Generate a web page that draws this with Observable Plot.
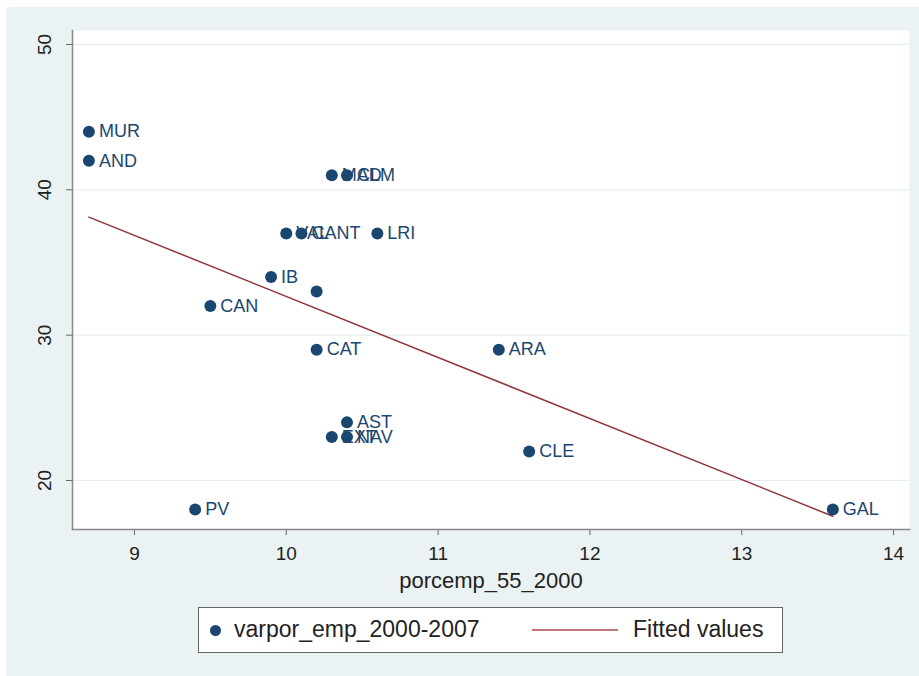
<!DOCTYPE html>
<html>
<head>
<meta charset="utf-8">
<script src="https://cdn.jsdelivr.net/npm/d3@7"></script>
<script src="https://cdn.jsdelivr.net/npm/@observablehq/plot@0.6"></script>
<style>
  html, body { margin: 0; padding: 0; background: #ffffff; }
  body { width: 919px; height: 676px; position: relative; overflow: hidden; font-family: "Liberation Sans", Arial, sans-serif; }
  #panel { position: absolute; left: 6px; top: 7px; width: 913px; height: 669px; background: #eaf2f3; }
  #legend { position: absolute; left: 192px; top: 600px; width: 585px; height: 46px; background: #fff; border: 1px solid #666; box-sizing: border-box; font-size: 23px; color: #222; }
  #legend .dot { position: absolute; left: 11px; top: 17px; width: 11px; height: 11px; border-radius: 50%; background: #1a476f; }
  #legend .t1 { position: absolute; left: 35px; top: 8px; }
  #legend .ln { position: absolute; left: 333px; top: 21px; width: 86px; height: 0; border-top: 2px solid #c0777c; }
  #legend .t2 { position: absolute; left: 434px; top: 8px; }
</style>
</head>
<body>
<div id="panel">
  <div id="chart"></div>
  <div id="legend">
    <div class="dot"></div><div class="t1">varpor_emp_2000-2007</div>
    <div class="ln"></div><div class="t2">Fitted values</div>
  </div>
</div>
<script>
// Regions (labels), porcemp_55_2000 (x) and varpor_emp_2000-2007 (y)
const regions = ["MUR", "AND", "MAD", "CLM", "VAL", "CANT", "LRI", "IB", "", "CAN", "CAT", "ARA", "AST", "EXT", "NAV", "CLE", "PV", "GAL"];
const porcemp = [8.7, 8.7, 10.3, 10.4, 10.0, 10.1, 10.6, 9.9, 10.2, 9.5, 10.2, 11.4, 10.4, 10.3, 10.4, 11.6, 9.4, 13.6];
const varpor = [44, 42, 41, 41, 37, 37, 37, 34, 33, 32, 29, 29, 24, 23, 23, 22, 18, 18];
const xTicks = [9, 10, 11, 12, 13, 14];
const yTicks = [20, 30, 40, 50];

const data = regions.map((r, i) => ({label: r, x: porcemp[i], y: varpor[i]}));

const navy = "#1a476f";
const maroon = "#90353b";

const chart = Plot.plot({
  width: 913,
  height: 595,
  marginLeft: 66,
  marginRight: 10,
  marginTop: 23,
  marginBottom: 73,
  style: {background: "transparent", fontFamily: "'Liberation Sans', Arial, sans-serif", fontSize: "19px", color: "#222"},
  x: {domain: [8.592, 14.105], ticks: xTicks, tickFormat: "d", label: null},
  y: {domain: [16.63, 50.96], ticks: yTicks, tickFormat: "d", label: null},
  marks: [
    Plot.frame({fill: "white", stroke: "none"}),
    Plot.gridY(yTicks, {stroke: "#e3eef1", strokeOpacity: 1, strokeWidth: 1.2}),
    Plot.axisX({ticks: xTicks, tickFormat: "d", tickSize: 6, tickPadding: 11, fontSize: 19, stroke: "#666", label: null}),
    Plot.axisX({ticks: [], fontSize: 22, label: "porcemp_55_2000", labelAnchor: "center", labelArrow: "none", labelOffset: 58}),
    Plot.axisY({ticks: yTicks, tickFormat: "d", tickSize: 6, tickPadding: 16, tickRotate: -90, fontSize: 19, stroke: "#666", label: null}),
    Plot.frame({anchor: "left", stroke: "#888", strokeWidth: 1.5}),
    Plot.frame({anchor: "bottom", stroke: "#888", strokeWidth: 1.5}),
    Plot.linearRegressionY(data, {x: "x", y: "y", stroke: maroon, strokeWidth: 1.5, ci: 0}),
    Plot.dot(data, {x: "x", y: "y", r: 6, fill: navy, stroke: "none"}),
    Plot.text(data, {x: "x", y: "y", text: "label", dx: 10, textAnchor: "start", fill: navy, fontSize: 18})
  ]
});
document.getElementById("chart").appendChild(chart);
</script>
</body>
</html>
